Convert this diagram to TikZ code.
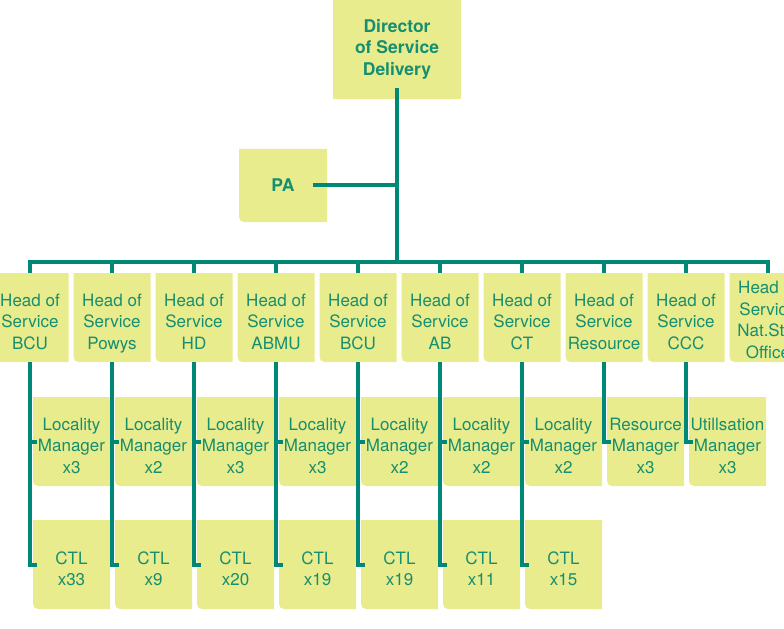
\documentclass[tikz,border=0pt]{standalone}
\usepackage{fontspec}
\setmainfont{TeX Gyre Heros}
\definecolor{boxfill}{RGB}{233,236,140}
\definecolor{tealline}{RGB}{0,136,118}
\definecolor{tealtext}{RGB}{22,142,112}
\tikzset{
  card/.style={inner sep=0pt,align=center,text=tealtext,
    path picture={\fill[boxfill] (path picture bounding box.north west)
      -- (path picture bounding box.north east) -- (path picture bounding box.south east)
      -- ([xshift=5bp]path picture bounding box.south west) arc[start angle=270,end angle=180,radius=5bp]
      -- cycle;}},
  orgbox/.style={card,minimum width=77bp,minimum height=89bp,
    font=\fontsize{17bp}{21.5bp}\selectfont,text height=63bp,text depth=0bp},
  topfont/.style={font=\fontsize{17.5bp}{21.5bp}\selectfont\bfseries},
  link/.style={draw=tealline,line width=4bp},
}
\begin{document}
\begin{tikzpicture}[x=1bp,y=-1bp]
\useasboundingbox (0,0) rectangle (784,629);
\clip (0,0) rectangle (784,629);
\node[topfont,fill=boxfill,text=tealtext,align=center,minimum width=128bp,minimum height=100bp] (dir) at (397,49) {Director\\of Service\\Delivery};
\node[card,topfont,minimum width=88bp,minimum height=73bp] (pa) at (283,185.5) {PA};
\foreach \lbl [count=\i] in {BCU,Powys,HD,ABMU,BCU,AB,CT,Resource,CCC}
  \node[orgbox] (h\i) at (-52+82*\i,317.5) {Head of\\Service\\\lbl};
\node[orgbox,text height=81bp] (h10) at (768,317.5) {Head of\\Service\\Nat.Stat\\Office};
\foreach \kind/\num [count=\i] in {Locality/x3,Locality/x2,Locality/x3,Locality/x3,Locality/x2,Locality/x2,Locality/x2,Resource/x3,Utillsation/x3}
  \node[orgbox] (m\i) at (-10.5+82*\i,441.5) {\kind\\Manager\\\num};
\foreach \num [count=\i] in {x33,x9,x20,x19,x19,x11,x15}
  \node[orgbox,text height=42bp] (c\i) at (-10.5+82*\i,564.5) {CTL\\\num};
\coordinate (bus) at (dir.south |- 0,262);
\draw[link] ([yshift=11bp]dir.south) -- (bus);
\draw[link] ([xshift=-14bp]pa.east) -- (pa.east -| dir.south);
\draw[link] (h1.north) |- (bus) -| (h10.north);
\foreach \i in {2,...,9}
  \draw[link] (h\i.north |- bus) -- (h\i.north);
\foreach \i in {1,...,7} {
  \draw[link] (h\i.south) |- ([xshift=4bp]c\i.west);
  \draw[link] (h\i.south |- m\i.west) -- ([xshift=4bp]m\i.west);
}
\foreach \i in {8,9}
  \draw[link] (h\i.south) |- ([xshift=4bp]m\i.west);
\end{tikzpicture}
\end{document}
